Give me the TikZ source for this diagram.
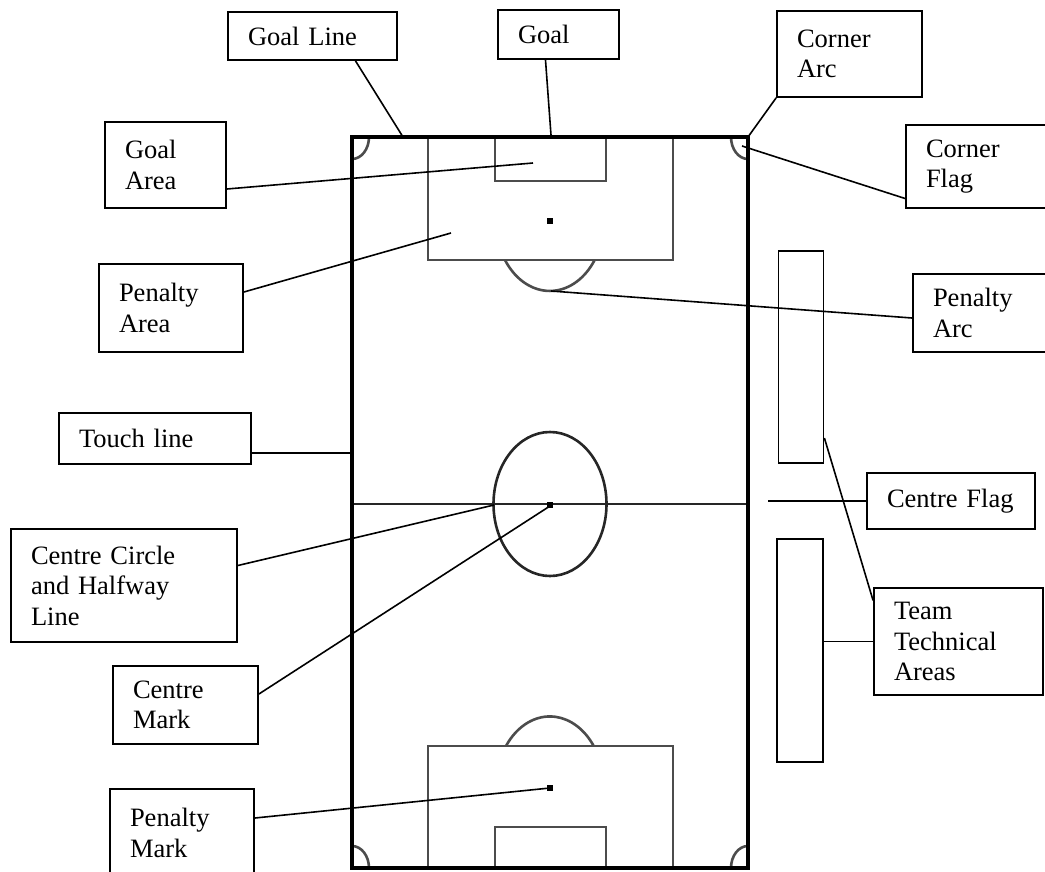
\documentclass[tikz,border=0pt]{standalone}
\usepackage{fontspec}
\setmainfont{Liberation Serif}
\usetikzlibrary{positioning}

\begin{document}
\begin{tikzpicture}[x=1pt, y=-1pt,
    lbl/.style={draw, line width=1.8pt, inner xsep=20pt, inner ysep=0pt, align=left,
                font=\fontsize{26.5}{30.5}\selectfont},
    area/.style={draw, line width=1.8pt, inner sep=0pt},
    boundary/.style={line width=3.8pt},
    fieldline/.style={line width=2.6pt, draw=black!70},
    link/.style={line width=1.6pt}]
    \useasboundingbox (0,0) rectangle (1045,871);
    \clip (0,0) rectangle (1045,871);

    % pitch
    \draw[fieldline] (428,137) rectangle (673,260) (495,137) rectangle (606,181);
    \draw[fieldline] (428,868) rectangle (673,746) (495,868) rectangle (606,827);
    \draw[fieldline] (505,260) arc [start angle=213.9, end angle=326.1, x radius=54pt, y radius=70pt];
    \draw[fieldline] (506,746) arc [start angle=144.3, end angle=35.7, x radius=54pt, y radius=71pt];
    \draw[fieldline] (369,137) arc [start angle=0, end angle=-90, x radius=17pt, y radius=22pt];
    \draw[fieldline] (731,137) arc [start angle=180, end angle=270, x radius=17pt, y radius=22pt];
    \draw[fieldline] (369,868) arc [start angle=0, end angle=90, x radius=17pt, y radius=22pt];
    \draw[fieldline] (731,868) arc [start angle=180, end angle=90, x radius=17pt, y radius=22pt];
    \draw[fieldline, draw=black!85] (352,504) -- (748,504);
    \draw[fieldline, draw=black!85] (550,504) ellipse [x radius=56.5pt, y radius=72pt];
    \draw[boundary] (352,868) -- (352,137) -- (748,137) -- (748,868) -- cycle;
    \fill (547,218) rectangle (553,224);
    \fill (547,502) rectangle (553,508);
    \fill (547,785) rectangle (553,791);

    \node[area, minimum width=45pt, minimum height=212pt] (ta1) at (801,357) {};
    \node[area, minimum width=46pt, minimum height=223pt] (ta2) at (800,650.5) {};

    \coordinate (glp) at (403,137);
    \coordinate (gp) at (551,135);
    \coordinate (cap) at (748,137);
    \coordinate (gap) at (533,163);
    \coordinate (cfp) at (742,146);
    \coordinate (pap) at (451,233);
    \coordinate (parcp) at (551,291);
    \coordinate (tlp) at (352,453);
    \coordinate (cflagp) at (768,501);
    \coordinate (ccp) at (494,505);
    \coordinate (cmp) at (550,506);
    \coordinate (pmp) at (550,788);

    % labels
    \node[lbl, text width=129pt, minimum height=48pt] (goalline) at (312.5,36) {Goal Line};
    \node[lbl, text width=81pt, minimum height=49pt] (goal) at (558.5,34.5) {Goal};
    \node[lbl, text width=105pt, minimum height=86pt] (cornerarc) at (849.5,54) {Corner\\Arc};
    \node[lbl, text width=81pt, minimum height=86pt] (goalarea) at (165.5,165) {Goal\\Area};
    \node[lbl, text width=124pt, minimum height=83pt] (cornerflag) at (988,166.5) {Corner\\Flag};
    \node[lbl, text width=104pt, minimum height=88pt] (penaltyarea) at (171,308) {Penalty\\Area};
    \node[lbl, text width=117pt, minimum height=78pt] (penaltyarc) at (991.5,313) {Penalty\\Arc};
    \node[lbl, text width=152pt, minimum height=51pt] (touchline) at (155,438.5) {Touch line};
    \node[lbl, text width=128pt, minimum height=56pt] (centreflag) at (951,501) {Centre Flag};
    \node[lbl, text width=186pt, minimum height=113pt] (centrecircle) at (124,585.5) {Centre Circle\\and Halfway\\Line};
    \node[lbl, text width=129pt, minimum height=107pt] (team) at (958.5,641.5) {Team\\Technical\\Areas};
    \node[lbl, text width=105pt, minimum height=78pt] (centremark) at (185.5,705) {Centre\\Mark};
    \node[lbl, text width=104pt, minimum height=88pt] (penaltymark) at (182,833) {Penalty\\Mark};

    \draw[link] ([xshift=43pt]goalline.south) -- (glp);
    \draw[link] ([xshift=-13pt]goal.south) -- (gp);
    \draw[link] (cornerarc.south west) -- (cap);
    \draw[link] ([yshift=-24pt]goalarea.east) -- (gap);
    \draw[link] ([yshift=-32pt]cornerflag.west) -- (cfp);
    \draw[link] ([yshift=16pt]penaltyarea.east) -- (pap);
    \draw[link] ([yshift=-5pt]penaltyarc.west) -- (parcp);
    \draw[link] ([yshift=-14.5pt]touchline.east) -- (tlp);
    \draw[link] (cflagp) -- (centreflag.west);
    \draw[link] ([yshift=20pt]centrecircle.east) -- (ccp);
    \draw[link] ([yshift=-81pt]ta1.east) -- ([yshift=41pt]team.west);
    \draw[link] ([yshift=9pt]ta2.east) -- (team.west);
    \draw[link] ([yshift=11pt]centremark.east) -- (cmp);
    \draw[link] ([yshift=15pt]penaltymark.east) -- (pmp);
\end{tikzpicture}
\end{document}
